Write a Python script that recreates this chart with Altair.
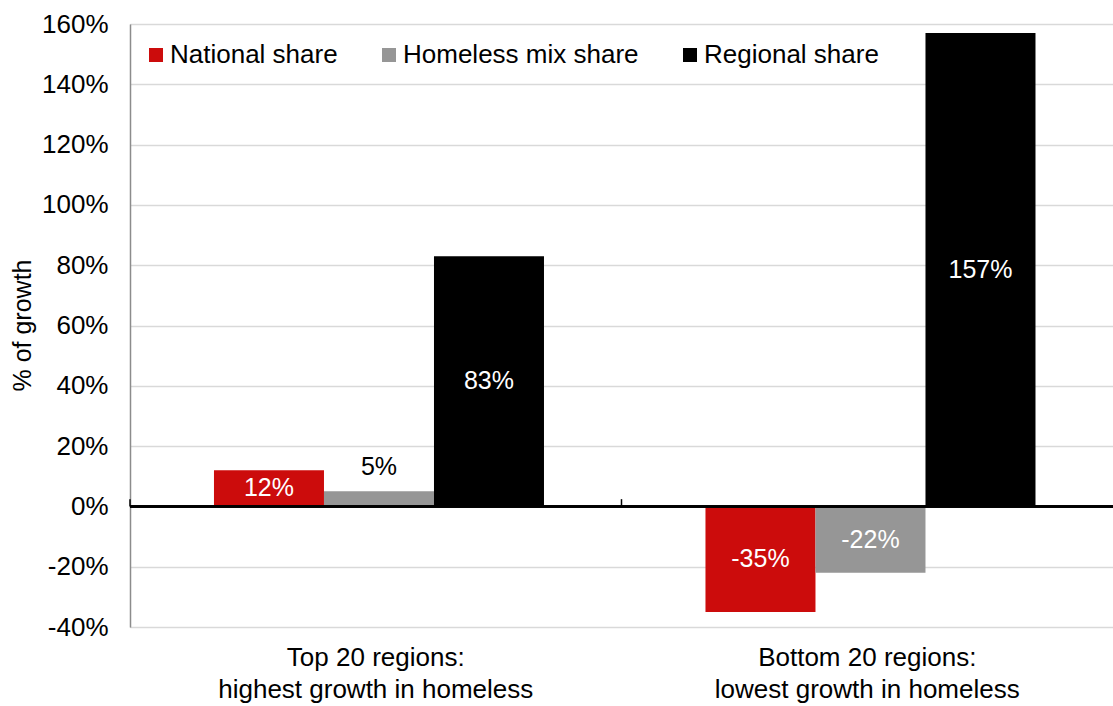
import altair as alt
import pandas as pd

groups = ["Top 20 regions: highest growth in homeless",
          "Bottom 20 regions: lowest growth in homeless"]
series = ["National share", "Homeless mix share", "Regional share"]
colors = ["#CC0C0C", "#969696", "#000000"]
national = [12, -35]
mix = [5, -22]
regional = [83, 157]

rows = []
for i, g in enumerate(groups):
    for s, vals in zip(series, [national, mix, regional]):
        rows.append({"group": g, "series": s, "value": vals[i]})
df = pd.DataFrame(rows)

FONT = "Liberation Sans"

x_enc = alt.X("group:N", sort=groups, title=None,
              scale=alt.Scale(paddingInner=0, paddingOuter=0),
              axis=alt.Axis(domain=False, ticks=False, labelAngle=0,
                            labelFontSize=26, labelFont=FONT, labelColor="#000",
                            labelPadding=17, labelLineHeight=32, labelLimit=1000,
                            labelExpr="[split(datum.label, ': ')[0] + ':', split(datum.label, ': ')[1]]"))
y_enc = alt.Y("value:Q", title="% of growth",
              scale=alt.Scale(domain=[-40, 160], nice=False, zero=False),
              axis=alt.Axis(values=list(range(-40, 161, 20)),
                            labelExpr="datum.value + '%'",
                            labelFontSize=26, labelFont=FONT, labelColor="#000",
                            labelPadding=22, ticks=False,
                            domainColor="#8c8c8c", domainWidth=1.5,
                            gridColor="#d9d9d9", gridWidth=1.5,
                            titleFontSize=25, titleFont=FONT, titleFontWeight="normal",
                            titleColor="#000", titleX=-108, titleY=301,
                            titleBaseline="middle", titleAngle=-90))
xo = alt.XOffset("series:N", sort=series,
                 scale=alt.Scale(paddingInner=0, paddingOuter=0.734, align=0.52))

bars = alt.Chart(df).mark_bar().encode(
    x=x_enc, xOffset=xo, y=y_enc,
    color=alt.Color("series:N", sort=series,
                    scale=alt.Scale(domain=series, range=colors),
                    legend=alt.Legend(title=None, orient="none", legendX=13, legendY=18,
                                      direction="horizontal", columns=3,
                                      symbolType="square", symbolSize=196,
                                      symbolStrokeWidth=0, symbolOpacity=1,
                                      labelFontSize=26, labelFont=FONT, labelColor="#000",
                                      labelLimit=1000,
                                      labelOffset=1, columnPadding=38, padding=0))
)

base = alt.Chart(df).transform_calculate(mid="datum.value / 2")

inside = base.transform_filter("abs(datum.value) >= 10").mark_text(
    color="white", fontSize=25, font=FONT, baseline="middle").encode(
    x=alt.X("group:N", sort=groups), xOffset=xo,
    y=alt.Y("mid:Q"),
    text=alt.Text("label:N")).transform_calculate(label="datum.value + '%'")

outside = base.transform_filter("abs(datum.value) < 10").mark_text(
    color="black", fontSize=25, font=FONT, baseline="bottom", dy=-11).encode(
    x=alt.X("group:N", sort=groups), xOffset=xo,
    y=alt.Y("value:Q"),
    text=alt.Text("label:N")).transform_calculate(label="datum.value + '%'")

zero = alt.Chart(df).mark_rule(color="black", strokeWidth=2).encode(y=alt.datum(0))

ticks = alt.Chart(pd.DataFrame({"group": groups})).mark_rule(
    color="black", strokeWidth=1.5).encode(
    x=alt.X("group:N", sort=groups, bandPosition=0),
    y=alt.datum(0), y2=alt.datum(2.4))

chart = alt.layer(bars, zero, ticks, inside, outside).properties(
    width=983, height=603,
    autosize=alt.AutoSizeParams(type="none"),
    padding={"left": 130, "top": 24, "right": 0, "bottom": 79},
).configure_view(stroke=None).configure(background="white")

chart.save("out.html", embed_options={"renderer": "svg", "actions": False})
